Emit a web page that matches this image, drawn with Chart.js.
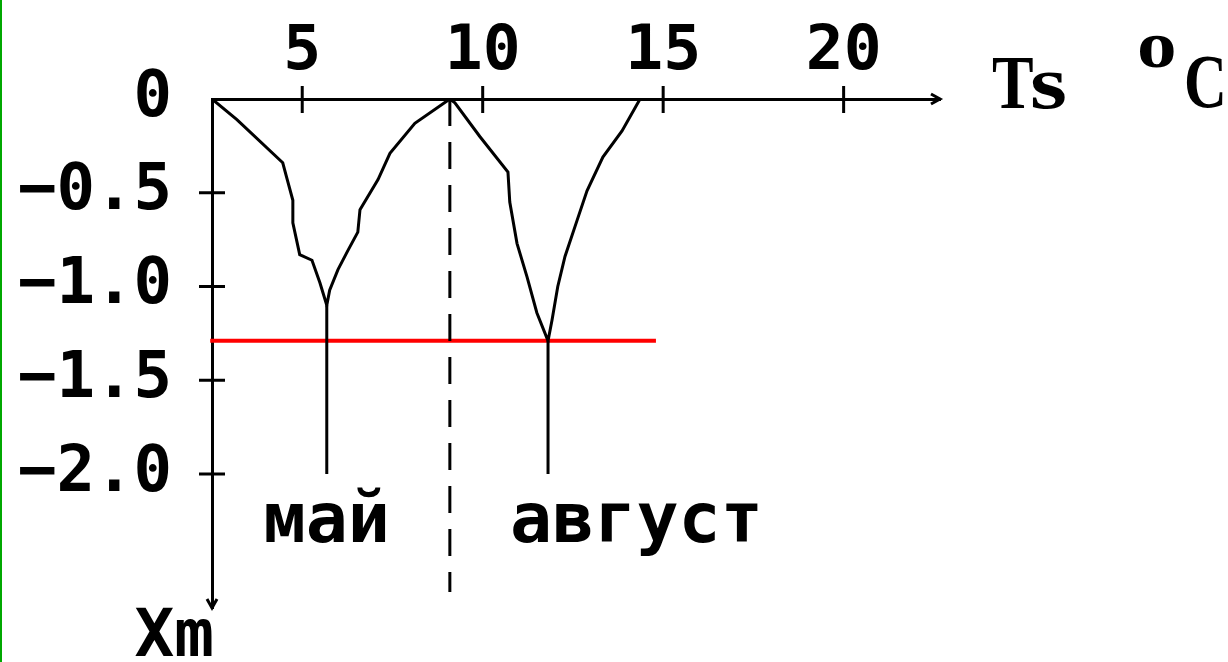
<!DOCTYPE html>
<html>
<head>
<meta charset="utf-8">
<script src="https://cdn.jsdelivr.net/npm/chart.js@4.4.1/dist/chart.umd.min.js"></script>
<style>
  html, body { margin: 0; padding: 0; background: #fff; }
  #wrap { position: relative; width: 1228px; height: 662px; }
  #edge { position: absolute; left: 0; top: 0; width: 2px; height: 662px; background: #00a800; }
</style>
</head>
<body>
<div id="wrap"><canvas id="xmChart"></canvas><div id="edge"></div></div>
<script>
// axis ticks
const xTicks = [5, 10, 15, 20];
const yTicks = [0, -0.5, -1.0, -1.5, -2.0];

// май curve: Ts vs Xm
const mayTs = [2.5, 3.19, 4.46, 4.57, 4.74, 4.74, 4.93, 5.27, 5.49, 5.68, 5.76, 5.99, 6.26, 6.54, 6.60, 7.10, 7.43, 8.12, 9.09];
const mayXm = [0, -0.11, -0.34, -0.42, -0.54, -0.66, -0.83, -0.86, -0.98, -1.10, -1.02, -0.91, -0.81, -0.71, -0.59, -0.43, -0.29, -0.13, 0];

// август curve
const augTs = [9.09, 9.23, 9.92, 10.70, 10.75, 10.95, 11.23, 11.50, 11.81, 11.92, 12.08, 12.28, 12.61, 12.89, 13.33, 13.86, 14.36];
const augXm = [0, -0.02, -0.20, -0.39, -0.55, -0.77, -0.95, -1.14, -1.29, -1.18, -1.00, -0.84, -0.65, -0.49, -0.31, -0.17, 0];

// stems under the minima
const mayStemTs = [5.68, 5.68];
const mayStemXm = [-1.10, -2.0];
const augStemTs = [11.81, 11.81];
const augStemXm = [-1.29, -2.0];

// dashed divider and red level
const dividerTs = [9.09, 9.09];
const dividerXm = [0, -2.63];
const levelTs = [2.45, 14.8];
const levelXm = [-1.29, -1.29];

const pts = (xs, ys) => xs.map((x, i) => ({ x: x, y: ys[i] }));
const line = (data, extra) => Object.assign({
    data: data, showLine: true, borderColor: '#000', borderWidth: 3,
    pointRadius: 0, tension: 0, fill: false
}, extra || {});

function squeezed(ctx, text, x, y, sx) {
    ctx.save(); ctx.translate(x, y); ctx.scale(sx, 1); ctx.fillText(text, 0, 0); ctx.restore();
}

const decor = {
    id: 'decor',
    afterDraw(chart) {
        const ctx = chart.ctx;
        const xs = chart.scales.x, ys = chart.scales.y;
        const area = chart.chartArea;
        const y0 = ys.getPixelForValue(0);
        const x0 = area.left;
        ctx.save();
        ctx.strokeStyle = '#000';
        ctx.lineWidth = 3;
        ctx.beginPath();
        xTicks.forEach(v => {
            const px = xs.getPixelForValue(v);
            ctx.moveTo(px, y0 - 13); ctx.lineTo(px, y0 + 14);
        });
        yTicks.filter(v => v !== 0).forEach(v => {
            const py = ys.getPixelForValue(v);
            ctx.moveTo(x0 - 13, py); ctx.lineTo(x0 + 13, py);
        });
        // arrows
        ctx.moveTo(area.right - 9, y0 - 5); ctx.lineTo(area.right, y0); ctx.lineTo(area.right - 9, y0 + 5);
        ctx.moveTo(x0 - 5, area.bottom - 9); ctx.lineTo(x0, area.bottom); ctx.lineTo(x0 + 5, area.bottom - 9);
        ctx.stroke();

        ctx.fillStyle = '#000';
        ctx.textBaseline = 'alphabetic';
        ctx.font = 'bold 70px "DejaVu Sans Mono"';
        ctx.textAlign = 'center';
        ctx.fillText('май', xs.getPixelForValue(5.68), 542);
        ctx.textAlign = 'left';
        ctx.fillText('август', 510, 542);
        ctx.font = 'bold 66px "DejaVu Sans Mono"';
        ctx.textAlign = 'right';
        ctx.fillText('Xm', 214, 656);

        ctx.textAlign = 'left';
        ctx.font = 'bold 76px "Liberation Serif"';
        squeezed(ctx, 'T', 992, 108, 0.82);
        squeezed(ctx, 's', 1030, 108, 1.25);
        squeezed(ctx, 'C', 1184, 107, 0.78);
        ctx.font = 'bold 66px "Liberation Serif"';
        squeezed(ctx, 'o', 1137, 67, 1.2);
        ctx.restore();
    }
};

const tickFont = { family: 'DejaVu Sans Mono', size: 63, weight: 'bold' };

new Chart(document.getElementById('xmChart').getContext('2d'), {
    type: 'scatter',
    data: {
        datasets: [
            line(pts(mayTs, mayXm)),
            line(pts(augTs, augXm)),
            line(pts(mayStemTs, mayStemXm)),
            line(pts(augStemTs, augStemXm)),
            line(pts(dividerTs, dividerXm), { borderWidth: 3, borderDash: [27, 16] }),
            line(pts(levelTs, levelXm), { borderColor: '#ff0000', borderWidth: 4, clip: false })
        ]
    },
    options: {
        responsive: true,
        maintainAspectRatio: false,
        animation: false,
        layout: { padding: { left: 0, top: 0, right: 288, bottom: 54 } },
        plugins: { legend: { display: false }, tooltip: { enabled: false } },
        scales: {
            x: {
                type: 'linear', position: 'top', min: 2.5, max: 22.67,
                grid: { display: false, drawTicks: false },
                border: { display: true, color: '#000', width: 3 },
                afterBuildTicks: s => { s.ticks = xTicks.map(v => ({ value: v })); },
                afterFit: s => { s.height = 99; s.paddingLeft = 0; s.paddingRight = 0; },
                ticks: { color: '#000', font: tickFont, padding: 9, autoSkip: false, maxRotation: 0 }
            },
            y: {
                type: 'linear', min: -2.715, max: 0,
                grid: { display: false, drawTicks: false },
                border: { display: true, color: '#000', width: 3 },
                afterBuildTicks: s => { s.ticks = yTicks.map(v => ({ value: v })); },
                afterFit: s => { s.width = 212; s.paddingTop = 0; s.paddingBottom = 0; },
                ticks: {
                    color: '#000', font: Object.assign({}, tickFont, { size: 64 }), padding: 40, autoSkip: false,
                    callback: v => v === 0 ? '0' : '\u2212' + Math.abs(v).toFixed(1)
                }
            }
        }
    },
    plugins: [decor]
});
</script>
</body>
</html>
